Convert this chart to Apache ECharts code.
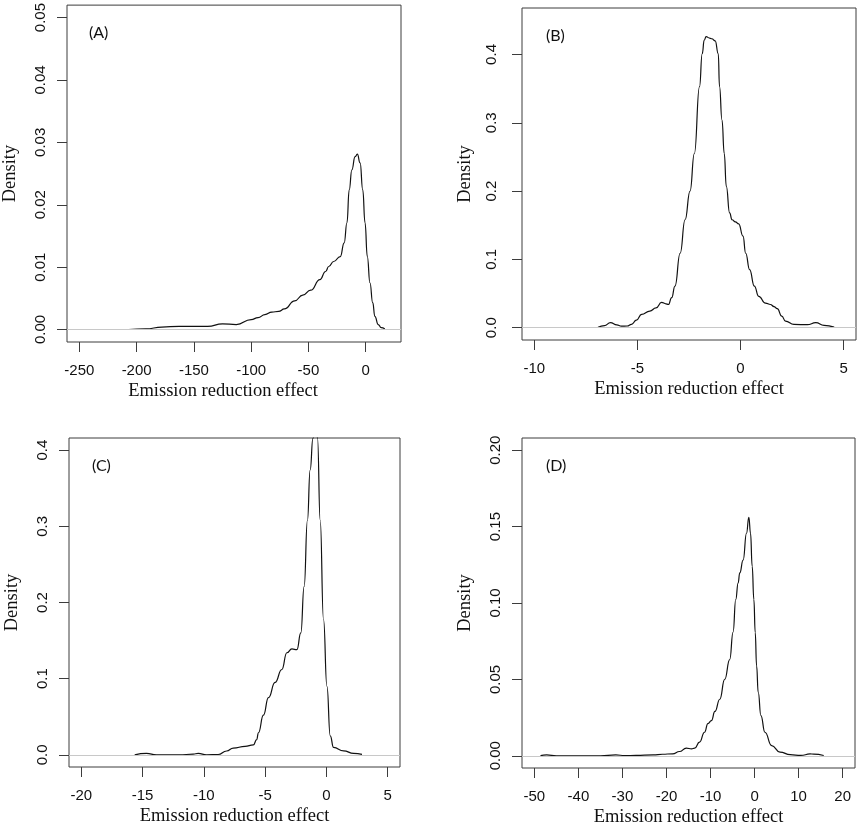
<!DOCTYPE html>
<html><head><meta charset="utf-8">
<script src="https://cdn.jsdelivr.net/npm/echarts@6/dist/echarts.min.js"></script>
<style>html,body{margin:0;padding:0;background:#fff}#c{width:858px;height:828px}</style>
</head><body><div id="c"></div>
<script>
// ---- Panel A ----
const aX = [-207,-192,-178,-163,-150,-138,-125,-113,-100,-94,-88,-82,-76,-71,-62,-55,-48,-40,-35,-32.3,-28,-22.2,-18.8,-16.4,-14.4,-12.1,-9.3,-7.3,-4.9,-2.6,-0.6,1.4,3.7,6.1,8.0,10.9,13.5,16.7];
const aY = [0,0.0001,0.0004,0.0005,0.0005,0.0005,0.0009,0.0008,0.0016,0.0019,0.0024,0.0028,0.0029,0.0033,0.0046,0.0055,0.0063,0.0080,0.0093,0.0101,0.0109,0.0117,0.0139,0.0171,0.0224,0.0256,0.0277,0.0281,0.0267,0.0224,0.0171,0.0117,0.0075,0.0043,0.0021,0.0008,0.0003,0.0001];
const ticksAX = [-250,-200,-150,-100,-50,0];
const ticksAY = [0,0.01,0.02,0.03,0.04,0.05];
const limAX = [-250,20], limAY = [0,0.05];

// ---- Panel B ----
const bX = [-6.91,-6.6,-6.31,-6.0,-5.78,-5.5,-5.29,-5.05,-4.80,-4.40,-4.1,-3.83,-3.62,-3.50,-3.34,-3.18,-2.93,-2.69,-2.45,-2.24,-1.99,-1.86,-1.76,-1.67,-1.50,-1.39,-1.23,-1.08,-1.02,-0.90,-0.79,-0.69,-0.53,-0.41,-0.25,-0.09,0.12,0.25,0.44,0.67,0.88,1.21,1.45,1.62,1.78,2.0,2.18,2.59,3.24,3.65,4.05,4.54];
const bY = [0.0005,0.003,0.0073,0.004,0.0023,0.0025,0.0048,0.011,0.0194,0.0243,0.029,0.037,0.035,0.034,0.044,0.061,0.109,0.158,0.200,0.255,0.353,0.401,0.421,0.426,0.424,0.423,0.420,0.401,0.353,0.304,0.255,0.207,0.168,0.158,0.155,0.152,0.134,0.109,0.085,0.061,0.046,0.036,0.034,0.031,0.028,0.017,0.0096,0.0048,0.0044,0.0073,0.0034,0.0009];
const ticksBX = [-10,-5,0,5];
const ticksBY = [0,0.1,0.2,0.3,0.4];
const limBX = [-10,5], limBY = [0,0.45];

// ---- Panel C ----
const cX = [-15.64,-14.68,-13.87,-12,-10.87,-10.46,-9.78,-8.83,-8.14,-7.60,-6.64,-5.96,-5.69,-5.55,-5.14,-4.73,-4.19,-3.64,-3.23,-2.82,-2.41,-2.09,-1.82,-1.55,-1.33,-1.10,-0.88,-0.73,-0.51,-0.24,0.04,0.31,0.58,1.40,2.22,2.90];
const cY = [0,0.0018,0,0,0.0009,0.0018,0,0.0004,0.005,0.0088,0.011,0.013,0.020,0.029,0.052,0.075,0.095,0.112,0.134,0.139,0.138,0.160,0.221,0.308,0.374,0.4154,0.45,0.4154,0.308,0.178,0.090,0.025,0.0097,0.0052,0.0018,0.0005];
const ticksCX = [-20,-15,-10,-5,0,5];
const ticksCY = [0,0.1,0.2,0.3,0.4];
const limCX = [-20,5], limCY = [0,0.4];

// ---- Panel D ----
const dX = [-48.6,-47.2,-45,-40,-35,-31.5,-29.5,-26.9,-23,-20.9,-18.6,-17.05,-15.5,-14.3,-13.6,-12.5,-11.35,-10.6,-9.8,-9.0,-7.9,-6.78,-5.64,-4.88,-4.27,-3.74,-3.36,-2.6,-1.83,-1.3,-0.92,-0.54,-0.16,0.15,0.46,0.83,1.44,2.35,3.88,5.78,8.1,10.5,12.6,13.4,15.7];
const dY = [0.0001,0.0006,0,0,0,0.0006,0.0001,0.0002,0.0006,0.0010,0.0013,0.0028,0.005,0.0045,0.005,0.0089,0.0154,0.021,0.023,0.029,0.037,0.050,0.063,0.081,0.1023,0.113,0.1197,0.128,0.1457,0.156,0.1457,0.124,0.1023,0.0806,0.0588,0.0415,0.0263,0.0154,0.0067,0.0024,0.0007,0.0002,0.0012,0.0011,0.0002];
const ticksDX = [-50,-40,-30,-20,-10,0,10,20];
const ticksDY = [0,0.05,0.10,0.15,0.20];
const limDX = [-50,20], limDY = [0,0.2];

const panelLabels = ['(A)','(B)','(C)','(D)'];
const xTitle = 'Emission reduction effect';
const yTitle = 'Density';

function ext(l){ const d=(l[1]-l[0])*0.04; return [l[0]-d, l[1]+d]; }
function zip(xs, ys){ return xs.map((x,i)=>[x, ys[i]]); }

const panels = [
  {xs:aX, ys:aY, tx:ticksAX, ty:ticksAY, lx:limAX, ly:limAY, dec:2, xpad:[0,22,0,0],
   grid:{left:63, top:5, width:338, height:337}, ym:19, lab:{left:89, top:25}},
  {xs:bX, ys:bY, tx:ticksBX, ty:ticksBY, lx:limBX, ly:limBY, dec:1, xpad:0,
   grid:{left:522, top:8, width:334, height:332}, ym:23, lab:{left:546, top:28}},
  {xs:cX, ys:cY, tx:ticksCX, ty:ticksCY, lx:limCX, ly:limCY, dec:1, xpad:0,
   grid:{left:69, top:438, width:331, height:329}, ym:18.5, lab:{left:92, top:458}},
  {xs:dX, ys:dY, tx:ticksDX, ty:ticksDY, lx:limDX, ly:limDY, dec:2, xpad:0,
   grid:{left:522, top:438, width:333, height:331}, ym:18.5, lab:{left:546, top:458}}
];

const tickFont = {fontFamily:'Liberation Sans, Arial, sans-serif', fontSize:15, color:'#111'};
const nameFont = {fontFamily:'Liberation Serif, Times New Roman, serif', fontSize:18.5, color:'#111'};
const boxColor = '#3c3c3c';

const option = {
  animation:false,
  backgroundColor:'#fff',
  title: panels.map((p,i)=>({text:panelLabels[i], left:p.lab.left, top:p.lab.top, padding:0,
    textStyle:{fontFamily:'Lato, Open Sans, sans-serif', fontSize:16, fontWeight:'normal', color:'#111'}})),
  grid: panels.map(p=>Object.assign({show:true, borderColor:boxColor, borderWidth:1, backgroundColor:'#fff', containLabel:false}, p.grid)),
  xAxis: panels.map((p,i)=>{ const e=ext(p.lx); return {
    type:'value', gridIndex:i, min:e[0], max:e[1], position:'bottom',
    name:xTitle, nameLocation:'middle', nameGap:40,
    nameTextStyle:Object.assign({padding:p.xpad}, nameFont),
    axisLine:{show:false, onZero:false},
    splitLine:{show:false},
    axisTick:{show:true, inside:false, length:10, customValues:p.tx, lineStyle:{color:boxColor, width:1}},
    axisLabel:Object.assign({show:true, margin:21, customValues:p.tx, formatter:v=>String(Math.round(v))}, tickFont)
  };}),
  yAxis: panels.map((p,i)=>{ const e=ext(p.ly); return {
    type:'value', gridIndex:i, min:e[0], max:e[1], position:'left',
    name:yTitle, nameLocation:'middle', nameGap:47, nameTextStyle:nameFont,
    axisLine:{show:false, onZero:false},
    splitLine:{show:false},
    axisTick:{show:true, inside:false, length:10, customValues:p.ty, lineStyle:{color:boxColor, width:1}},
    axisLabel:Object.assign({show:true, rotate:90, margin:p.ym, customValues:p.ty, formatter:v=>Number(v).toFixed(p.dec)}, tickFont)
  };}),
  series: panels.map((p,i)=>({
    type:'line', xAxisIndex:i, yAxisIndex:i, data:zip(p.xs,p.ys),
    showSymbol:false, symbol:'none', smooth:0.5, smoothMonotone:'x', clip:true,
    lineStyle:{color:'#111', width:1.2},
    markLine:{silent:true, symbol:['none','none'], label:{show:false},
      lineStyle:{color:'#c8c8c8', width:1, type:'solid'}, data:[{yAxis:0}]},
    z:3
  }))
};

const chart = echarts.init(document.getElementById('c'), null, {renderer:'canvas'});
chart.setOption(option);
</script></body></html>
